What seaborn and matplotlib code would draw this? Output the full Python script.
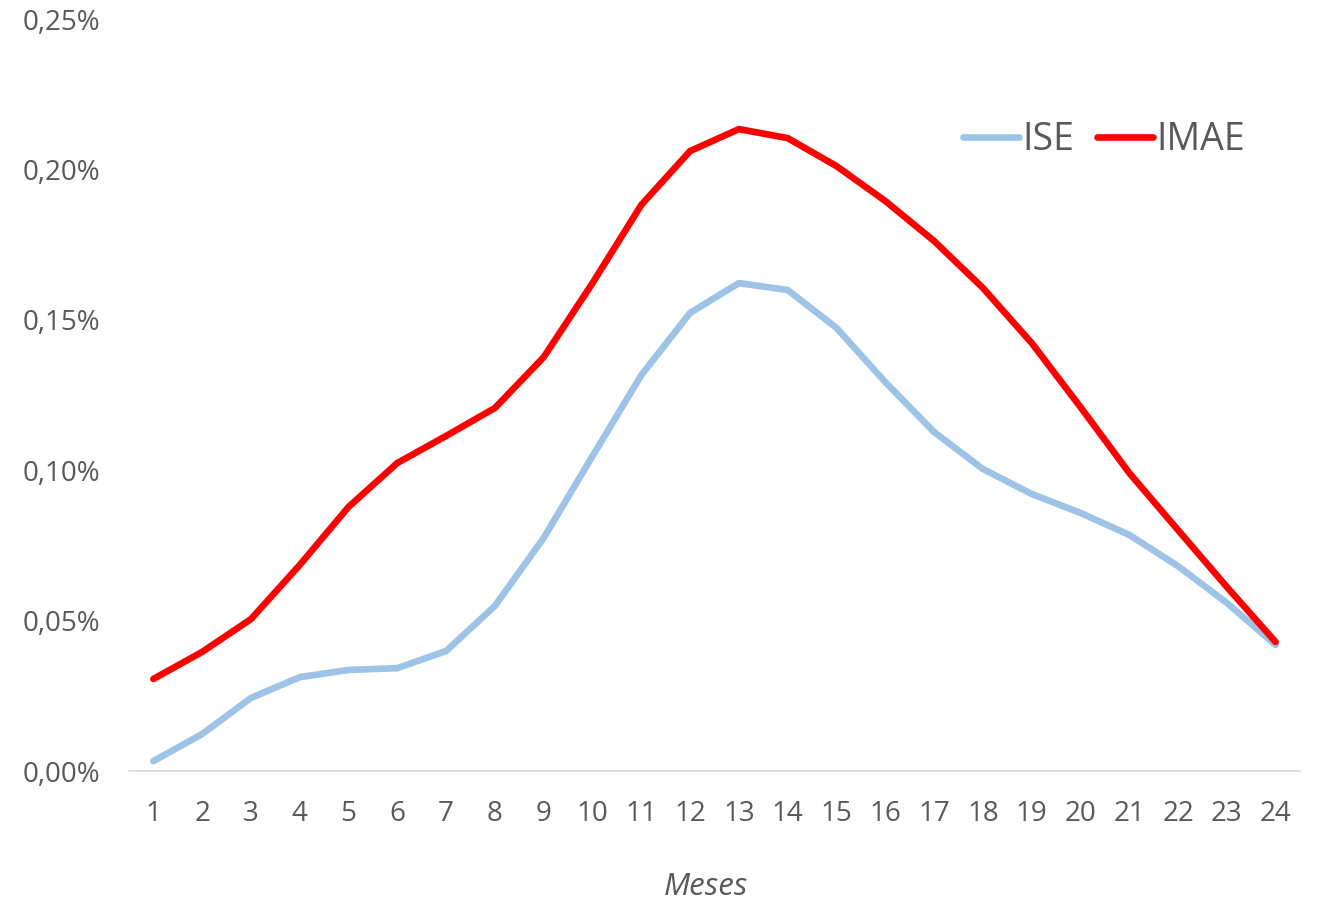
import matplotlib
matplotlib.use("Agg")
import matplotlib.pyplot as plt
import matplotlib.ticker as mticker
import numpy as np
import pandas as pd
import seaborn as sns

# Monthly values (in %)
meses = list(range(1, 25))
ise = [0.0033, 0.0123, 0.0243, 0.0312, 0.0336, 0.0342, 0.0399, 0.0549, 0.0775, 0.1047,
       0.1316, 0.1523, 0.1622, 0.1599, 0.1473, 0.1293, 0.1127, 0.1004, 0.0921, 0.0858,
       0.0785, 0.0681, 0.0559, 0.0419]
imae = [0.0306, 0.0396, 0.0505, 0.0685, 0.0878, 0.1024, 0.1114, 0.1207, 0.1376, 0.1622,
        0.1882, 0.2061, 0.2134, 0.2104, 0.2011, 0.1895, 0.1762, 0.1606, 0.1423, 0.1210,
        0.0991, 0.0801, 0.0612, 0.0429]
series_names = ["ISE", "IMAE"]
colors = {"ISE": "#9DC3E6", "IMAE": "#FF0000"}

df = pd.DataFrame({
    "Meses": meses * 2,
    "valor": ise + imae,
    "serie": ["ISE"] * len(meses) + ["IMAE"] * len(meses),
})

sns.set_theme(style="white")
plt.rcParams["font.family"] = ["Open Sans", "DejaVu Sans"]

fig = plt.figure(figsize=(13.17, 9.02), dpi=100)
ax = fig.add_axes([129 / 1317, 1 - 771 / 902, (1300 - 129) / 1317, (771 - 19) / 902])

lw = 4.8
sns.lineplot(data=df, x="Meses", y="valor", hue="serie", hue_order=series_names,
             palette=colors, linewidth=lw, ax=ax, legend=True)
for line in ax.get_lines():
    line.set_solid_capstyle("round")
    line.set_solid_joinstyle("round")

ax.set_xlim(0.5, 24.5)
ax.set_ylim(0, 0.25)
ax.set_xticks(meses)
ax.set_yticks([0, 0.05, 0.10, 0.15, 0.20, 0.25])
ax.yaxis.set_major_formatter(mticker.FuncFormatter(lambda v, p: f"{v:.2f}%".replace(".", ",")))

tick_color = "#595959"
ax.tick_params(axis="x", length=0, pad=21, labelsize=20, labelcolor=tick_color)
ax.tick_params(axis="y", length=0, pad=21, labelsize=20, labelcolor=tick_color)

for side in ["top", "right", "left"]:
    ax.spines[side].set_visible(False)
ax.spines["bottom"].set_color("#D9D9D9")
ax.spines["bottom"].set_linewidth(1.2)
ax.grid(False)

ax.set_ylabel("")
ax.set_xlabel("Meses", fontsize=22.5, style="italic", color=tick_color)
ax.xaxis.set_label_coords((706 - 129) / 1171, (771 - 887) / 752)
ax.xaxis.label.set_va("center")

handles, labels = ax.get_legend_handles_labels()
for h in handles:
    h.set_linewidth(lw)
    h.set_solid_capstyle("round")
leg = ax.legend(handles, labels, loc="center", bbox_to_anchor=((1104 - 129) / 1171, (771 - 140) / 752),
                ncol=2, frameon=False, fontsize=27, handlelength=1.5, handletextpad=0.1,
                columnspacing=0.6, borderaxespad=0)
for t in leg.get_texts():
    t.set_color(tick_color)

fig.savefig("out.png", dpi=100, facecolor="white")
